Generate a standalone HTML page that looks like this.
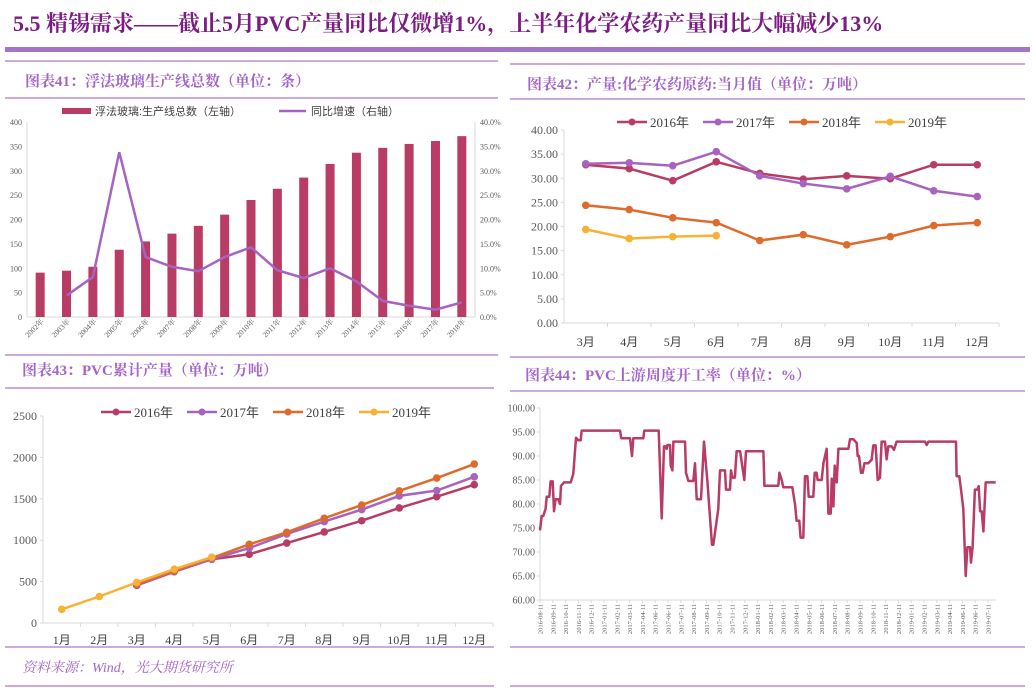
<!DOCTYPE html>
<html><head><meta charset="utf-8">
<style>
html,body{margin:0;padding:0;background:#fff;}
svg{display:block;font-family:"Liberation Serif","Noto Serif CJK SC",serif;}
</style></head>
<body>
<svg id="s" width="1036" height="688" viewBox="0 0 1036 688" xmlns="http://www.w3.org/2000/svg">
<text x="13" y="31" font-size="22" font-weight="bold" fill="#7b1c83" font-family="'Liberation Serif','Noto Serif CJK SC',serif">5.5 精锡需求——截止5月PVC产量同比仅微增1%，上半年化学农药产量同比大幅减少13%</text>
<rect x="5" y="47" width="1025" height="5" fill="#a474c8"/>
<g stroke="#b98fd0" stroke-width="1.5">
<line x1="5" y1="61" x2="498" y2="61"/><line x1="5" y1="98" x2="498" y2="98"/>
<line x1="510" y1="64" x2="1025" y2="64"/><line x1="510" y1="99" x2="1025" y2="99"/>
<line x1="5" y1="355" x2="498" y2="355"/>
<line x1="510" y1="357" x2="1025" y2="357"/>
<line x1="5" y1="388" x2="494" y2="388"/><line x1="510" y1="391" x2="1025" y2="391"/>
<line x1="5" y1="647" x2="494" y2="647"/><line x1="510" y1="647" x2="1025" y2="647"/>
<line x1="5" y1="686" x2="494" y2="686"/><line x1="510" y1="686" x2="1025" y2="686"/>
</g>
<g font-weight="bold" fill="#a366c8" font-size="15">
<text x="25" y="86">图表41：浮法玻璃生产线总数（单位：条）</text>
<text x="527" y="89">图表42：产量:化学农药原药:当月值（单位：万吨）</text>
<text x="22" y="375">图表43：PVC累计产量（单位：万吨）</text>
<text x="525" y="380">图表44：PVC上游周度开工率（单位：%）</text>
</g>
<text x="22" y="672" font-size="14" font-style="italic" fill="#a366c8">资料来源：Wind，光大期货研究所</text>
<g id="c41"></g><g id="c42"></g><g id="c43"></g><g id="c44"></g>
</svg>
<script>
// ---- Chart 41 data
const c41Years = ["2002年","2003年","2004年","2005年","2006年","2007年","2008年","2009年","2010年","2011年","2012年","2013年","2014年","2015年","2016年","2017年","2018年"];
const c41Lines = [91,95,103,138,155,171,187,210,240,263,286,314,337,347,355,361,371];
const c41Growth = [null,4.4,8.2,33.8,12.3,10.3,9.4,12.3,14.3,9.6,8.0,10.0,7.3,3.3,2.3,1.5,3.0];
const c41LeftTicks = [0,50,100,150,200,250,300,350,400];
const c41RightTicks = ["0.0%","5.0%","10.0%","15.0%","20.0%","25.0%","30.0%","35.0%","40.0%"];
// ---- Chart 42 data
const c42Months = ["3月","4月","5月","6月","7月","8月","9月","10月","11月","12月"];
const c42Y2016 = [32.8,32.0,29.5,33.4,31.0,29.8,30.5,29.9,32.8,32.8];
const c42Y2017 = [33.0,33.2,32.6,35.5,30.5,28.9,27.8,30.4,27.4,26.2];
const c42Y2018 = [24.4,23.5,21.8,20.8,17.1,18.3,16.2,17.9,20.2,20.8];
const c42Y2019 = [19.4,17.5,17.9,18.1];
const c42Ticks = [0,5,10,15,20,25,30,35,40];
// ---- Chart 43 data
const c43Months = ["1月","2月","3月","4月","5月","6月","7月","8月","9月","10月","11月","12月"];
const c43Y2016 = [null,null,455,620,770,830,965,1100,1235,1390,1525,1670];
const c43Y2017 = [null,null,460,625,770,905,1075,1225,1370,1535,1600,1765];
const c43Y2018 = [null,null,470,630,785,950,1095,1265,1425,1595,1750,1920];
const c43Y2019 = [165,320,490,650,795];
const c43Ticks = [0,500,1000,1500,2000,2500];
// ---- Chart 44 data (t = months since 2016-08-11)
const c44Labels = ["2016-08-11","2016-09-11","2016-10-11","2016-11-11","2016-12-11","2017-01-11","2017-02-11","2017-03-11","2017-04-11","2017-06-11","2017-06-11","2017-07-11","2017-08-11","2017-09-11","2017-10-11","2017-11-11","2017-12-11","2018-01-11","2018-02-11","2018-03-11","2018-04-11","2018-05-11","2018-06-11","2018-07-11","2018-08-11","2018-09-11","2018-10-11","2018-11-11","2018-12-11","2019-01-11","2019-02-11","2019-03-11","2019-04-11","2019-06-11","2019-06-11","2019-07-11"];
const c44T = [0,0.13,0.26,0.44,0.52,0.73,0.83,0.99,1.09,1.22,1.43,1.56,1.64,1.88,2.40,2.60,2.81,2.99,3.18,3.26,6.25,6.35,7.03,7.19,7.29,8.07,8.15,9.27,9.51,9.69,9.82,9.90,9.95,10.16,10.21,10.34,10.42,11.33,11.41,11.59,11.98,12.11,12.24,12.58,12.81,13.07,13.44,13.54,13.93,14.06,14.45,14.53,14.84,14.92,15.03,15.23,15.36,15.63,15.96,16.09,17.45,17.53,18.62,18.70,18.88,19.01,19.71,19.92,20.05,20.26,20.36,20.57,20.70,20.89,20.99,21.35,21.46,21.61,21.69,22.01,22.14,22.40,22.53,22.71,22.79,22.92,23.02,23.18,23.31,24.09,24.22,24.48,24.74,24.82,24.92,25.08,25.21,25.34,25.65,25.91,26.04,26.22,26.38,26.56,26.69,26.95,27.08,27.21,27.47,27.66,27.86,30.08,30.21,30.34,32.50,32.55,32.76,32.94,33.07,33.26,33.39,33.59,33.67,33.80,33.98,34.17,34.27,34.38,34.51,34.64,34.82,35.60];
const c44V = [74.5,77.5,77.5,79,81.5,81.5,84.7,84.7,78.5,81,81,80,83.8,84.5,84.5,86.3,93.8,93.3,93.3,95.3,95.3,93.7,93.7,90,93.7,93.7,95.3,95.3,77,92,92,91.5,92.3,92.3,88,87,93,93,86.5,84.8,84.8,88.5,81,81,93,85,71.5,71.5,79,87,87,83,83,87,85.5,85.5,91,91,85,91,91,83.8,83.8,86.5,85,83.5,83.5,80,76.5,76.5,73,73,85.8,85.8,81.5,81.5,86.5,86.5,85,85,88.5,91.5,78,78,85.3,79.5,88,84.5,91.5,91.5,93.5,93.5,92.7,90,90,86.5,86.5,88.5,88.5,89.2,92.2,92.2,85,85.5,93,93,89.3,92,92,91.3,93,93,92.3,93,93,85.8,85.8,82,79,65,71,71,67.8,71,83,83,83.7,78.5,78.5,74.3,84.5,84.5];
const c44Ticks = [60,65,70,75,80,85,90,95,100];

const C16="#b83c64",C17="#a862c0",C18="#e06a2c",C19="#f8b132";
const NS="http://www.w3.org/2000/svg";
function mk(parent,tag,attrs,txt){const e=document.createElementNS(NS,tag);for(const k in attrs)e.setAttribute(k,attrs[k]);if(txt!==undefined)e.textContent=txt;parent.appendChild(e);return e;}
function lin(d0,d1,r0,r1){return v=>r0+(v-d0)/(d1-d0)*(r1-r0);}

// ===== Chart 41
(function(){
const g=document.getElementById('c41');
const x0=27,x1=475,yl=lin(0,400,317,122),yr=lin(0,40,317,122);
const bw=(x1-x0)/c41Years.length;
const ax=mk(g,'g',{stroke:'#d9d9d9','stroke-width':1});

mk(ax,'line',{x1:x0,y1:317,x2:x1,y2:317});mk(ax,'line',{x1:x0,y1:122,x2:x0,y2:317});mk(ax,'line',{x1:x1,y1:122,x2:x1,y2:317});
c41LeftTicks.forEach(t=>{const e=mk(g,'text',{x:x0-5,y:yl(t)+3,'font-size':8,'text-anchor':'end',fill:'#595959'},t);});
c41RightTicks.forEach((t,i)=>{const e=mk(g,'text',{x:x1+5,y:yl(i*50)+3,'font-size':8,fill:'#595959'},t);});
c41Years.forEach((y,i)=>{const cx=x0+bw*(i+0.5);
 const b=mk(g,'rect',{x:cx-4.5,y:yl(c41Lines[i]),width:9,height:317-yl(c41Lines[i]),fill:C16});
 
 const t=mk(g,'text',{x:cx+4,y:322,'font-size':7.5,'text-anchor':'end',fill:'#595959',transform:`rotate(-45 ${cx+4} 322)`},y);
 });
let d='';c41Growth.forEach((v,i)=>{if(v===null)return;const cx=x0+bw*(i+0.5);d+=(d?'L':'M')+cx+','+yr(v);});
const p=mk(g,'path',{d:d,fill:'none',stroke:C17,'stroke-width':2.5});

const lg=mk(g,'g',{});
mk(lg,'rect',{x:62,y:108,width:29,height:6,fill:C16});
mk(lg,'text',{x:95,y:115,'font-size':11,fill:'#404040','font-family':"'Liberation Sans','Noto Sans CJK SC',sans-serif"},'浮法玻璃:生产线总数（左轴）');
mk(lg,'line',{x1:279,y1:111,x2:306,y2:111,stroke:C17,'stroke-width':2.5});
mk(lg,'text',{x:311,y:115,'font-size':11,fill:'#404040','font-family':"'Liberation Sans','Noto Sans CJK SC',sans-serif"},'同比增速（右轴）');
})();

// ===== generic line chart
function lineChart(id,cats,series,ticks,fmt,X0,X1,Y0,Y1,yTop,xc,legendY,legendX,lblY){
const g=document.getElementById(id);
const y=lin(ticks[0],ticks[ticks.length-1],Y0,Y1);
const bw=(X1-X0)/cats.length;
const ax=mk(g,'g',{stroke:'#d9d9d9','stroke-width':1});

mk(ax,'line',{x1:X0,y1:Y0,x2:X1,y2:Y0});mk(ax,'line',{x1:X0,y1:Y0,x2:X0,y2:Y1});
ticks.forEach(t=>{mk(ax,'line',{x1:X0-3,y1:y(t),x2:X0,y2:y(t)});
 const e=mk(g,'text',{x:X0-6,y:y(t)+4,'font-size':12,'text-anchor':'end',fill:'#595959'},fmt(t));
 });
cats.forEach((c,i)=>{const cx=X0+bw*(i+0.5);mk(ax,'line',{x1:X0+bw*(i+1),y1:Y0,x2:X0+bw*(i+1),y2:Y0+4});
 const e=mk(g,'text',{x:cx,y:lblY,'font-size':12,'text-anchor':'middle',fill:'#404040','font-family':"'Liberation Serif','Noto Sans CJK SC',serif"},c);
 });
series.forEach(s=>{let d='';s.v.forEach((v,i)=>{if(v===null)return;d+=(d?'L':'M')+(X0+bw*(i+0.5))+','+y(v);});
 const p=mk(g,'path',{d:d,fill:'none',stroke:s.c,'stroke-width':2.5});
 
 s.v.forEach((v,i)=>{if(v===null)return;const c=mk(g,'circle',{cx:X0+bw*(i+0.5),cy:y(v),r:3.8,fill:s.c});
  });});
series.forEach((s,k)=>{const lx=legendX+k*86;const lg=mk(g,'g',{});
 
 mk(lg,'line',{x1:lx,y1:legendY,x2:lx+30,y2:legendY,stroke:s.c,'stroke-width':2.5});
 mk(lg,'circle',{cx:lx+15,cy:legendY,r:3.5,fill:s.c});
 mk(lg,'text',{x:lx+33,y:legendY+5,'font-size':13,fill:'#404040','font-family':"'Liberation Serif','Noto Sans CJK SC',serif"},s.n+'年');});
}
lineChart('c42',c42Months,[{n:'2016',v:c42Y2016,c:C16},{n:'2017',v:c42Y2017,c:C17},{n:'2018',v:c42Y2018,c:C18},{n:'2019',v:c42Y2019,c:C19}],c42Ticks,t=>t.toFixed(2),564,999,323,130,0,0,122,617,346);
lineChart('c43',c43Months,[{n:'2016',v:c43Y2016,c:C16},{n:'2017',v:c43Y2017,c:C17},{n:'2018',v:c43Y2018,c:C18},{n:'2019',v:c43Y2019,c:C19}],c43Ticks,t=>String(t),43,493,623,416,0,0,412,101,644);

// ===== Chart 44
(function(){
const g=document.getElementById('c44');
const X0=540,X1=996,x=lin(0,35,540,988),y=lin(60,100,600,408);
const ax=mk(g,'g',{stroke:'#d9d9d9','stroke-width':1});

mk(ax,'line',{x1:X0,y1:600,x2:X1,y2:600});mk(ax,'line',{x1:X0,y1:600,x2:X0,y2:408});
c44Ticks.forEach(t=>{mk(ax,'line',{x1:X0-3,y1:y(t),x2:X0,y2:y(t)});
 const e=mk(g,'text',{x:X0-5,y:y(t)+3.5,'font-size':10,'text-anchor':'end',fill:'#595959'},t.toFixed(2));
 });
c44Labels.forEach((l,i)=>{const cx=x(i);mk(ax,'line',{x1:cx,y1:600,x2:cx,y2:603});
 const e=mk(g,'text',{x:cx+2.5,y:604,'font-size':6.5,'text-anchor':'end',fill:'#595959',transform:`rotate(-90 ${cx+2.5} 604)`},l);
 });
let d='';c44T.forEach((t,i)=>{d+=(i?'L':'M')+x(t).toFixed(1)+','+y(c44V[i]).toFixed(1);});
const p=mk(g,'path',{d:d,fill:'none',stroke:C16,'stroke-width':2.5,'stroke-linejoin':'round'});

})();
</script>
</body></html>
